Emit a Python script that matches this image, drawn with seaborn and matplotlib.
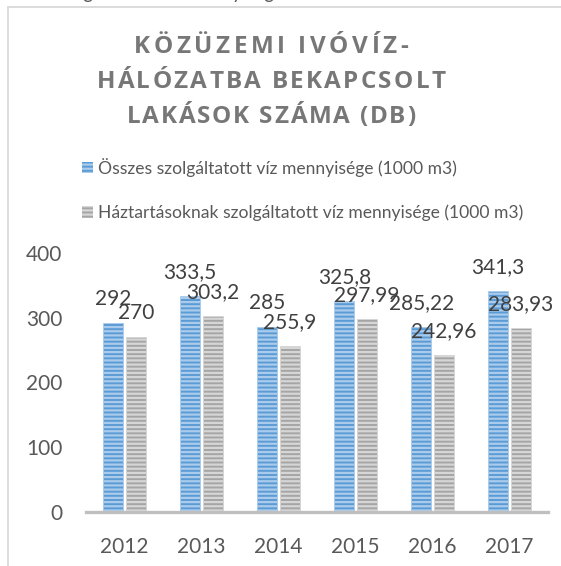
import matplotlib
matplotlib.use("Agg")
import matplotlib.pyplot as plt
from matplotlib.patches import Patch, Rectangle
from matplotlib.font_manager import FontProperties
import pandas as pd
import seaborn as sns

# --- data ---
years = ["2012", "2013", "2014", "2015", "2016", "2017"]
osszes = [292, 333.5, 285, 325.8, 285.22, 341.3]
haztartas = [270, 303.2, 255.9, 297.99, 242.96, 283.93]
series_names = [
    "Összes szolgáltatott víz mennyisége (1000 m3)",
    "Háztartásoknak szolgáltatott víz mennyisége (1000 m3)",
]
y_ticks = [0, 100, 200, 300, 400]
title_lines = ["KÖZÜZEMI IVÓVÍZ-", "HÁLÓZATBA BEKAPCSOLT", "LAKÁSOK SZÁMA (DB)"]
header_text = "Összes szolgáltatott víz mennyisége"

# --- style ---
sns.set_theme(style="white")
plt.rcParams["font.family"] = ["Lato", "DejaVu Sans"]
plt.rcParams["hatch.linewidth"] = 1.6

face = ["#5B9BD5", "#A5A5A5"]
stripe = ["#AACBEB", "#D6D6D6"]
label_col = "#404040"
tick_col = "#595959"

W, H = 561, 566
fig = plt.figure(figsize=(W / 100, H / 100), dpi=100)
fig.patch.set_facecolor("white")
ax = fig.add_axes([86 / W, 1 - 512 / H, 462 / W, 259 / H])

df = pd.DataFrame({
    "Év": years * 2,
    "Sorozat": [series_names[0]] * len(years) + [series_names[1]] * len(years),
    "Érték": osszes + haztartas,
})

sns.barplot(data=df, x="Év", y="Érték", hue="Sorozat", hue_order=series_names,
            palette=face, saturation=1, width=0.584, gap=0.11,
            legend=False, ax=ax)


def stripe_bar(p, edge):
    p.set_hatch("----")
    p.set_edgecolor(edge)
    p.set_linewidth(0.6)
    if hasattr(p, "set_hatchcolor"):
        p.set_hatchcolor(edge)


def fmt(v):
    return f"{v:g}".replace(".", ",")


for i, cont in enumerate(ax.containers):
    values = osszes if i == 0 else haztartas
    for bar, v in zip(cont.patches, values):
        stripe_bar(bar, stripe[i])
        ax.annotate(fmt(v), xy=(bar.get_x() + bar.get_width() / 2, v),
                    xytext=(0, 13), textcoords="offset points",
                    ha="center", va="baseline", fontsize=15,
                    color=label_col, annotation_clip=False)

ax.set_xlim(-0.5, 5.5)
ax.set_ylim(0, 400)
ax.set_yticks(y_ticks)
ax.set_xlabel("")
ax.set_ylabel("")
for s in ["top", "right", "left"]:
    ax.spines[s].set_visible(False)
ax.spines["bottom"].set_color("#BFBFBF")
ax.spines["bottom"].set_linewidth(2.4)
ax.tick_params(axis="y", length=0, pad=17, labelsize=15, labelcolor=tick_col)
ax.tick_params(axis="x", length=0, pad=18, labelsize=15, labelcolor=tick_col)
ax.set_facecolor("none")

# --- title with letter spacing (tracked, character by character) ---
title_prop = FontProperties(family=["Open Sans", "DejaVu Sans"], weight="bold", size=17.5)
renderer = fig.canvas.get_renderer()


def text_w(s):
    return renderer.get_text_width_height_descent(s, title_prop, ismath=False)[0]


base_w = text_w("II")


def advances(s):
    return [text_w("I" + c + "I") - base_w for c in s]


title_cx = 271
line_widths_px = [274, 349, 289]

for k, line in enumerate(title_lines):
    adv = advances(line)
    track = (line_widths_px[k] - sum(adv)) / (len(adv) - 1)
    pen = title_cx - line_widths_px[k] / 2
    y = 1 - (47 + 35 * k) / H
    for c, a in zip(line, adv):
        if c != " ":
            fig.text((pen + a / 2) / W, y, c, ha="center", va="center",
                     fontproperties=title_prop, color="#777777")
        pen += a + track

# --- legend ---
handles = [Patch(facecolor=face[i], edgecolor=stripe[i], hatch="----", linewidth=0)
           for i in range(2)]
fig.legend(handles=handles, labels=series_names, loc="upper left",
           bbox_to_anchor=(82 / W, 1 - 158 / H), frameon=False, borderpad=0,
           borderaxespad=0, handlelength=0.62, handleheight=0.62,
           handletextpad=0.3, labelspacing=1.58, fontsize=12.6,
           labelcolor=tick_col)

# --- chart frame and surrounding page text ---
fig.add_artist(Rectangle((8 / W, -0.1), 1.2, 1.1 - 7 / H, transform=fig.transFigure,
                         fill=False, edgecolor="#D9D9D9", linewidth=1.3))
fig.text(-0.02, 1 + 0.5 / H, header_text, ha="left", va="baseline",
         fontsize=13.5, color=tick_col)

fig.savefig("out.png", dpi=100)
